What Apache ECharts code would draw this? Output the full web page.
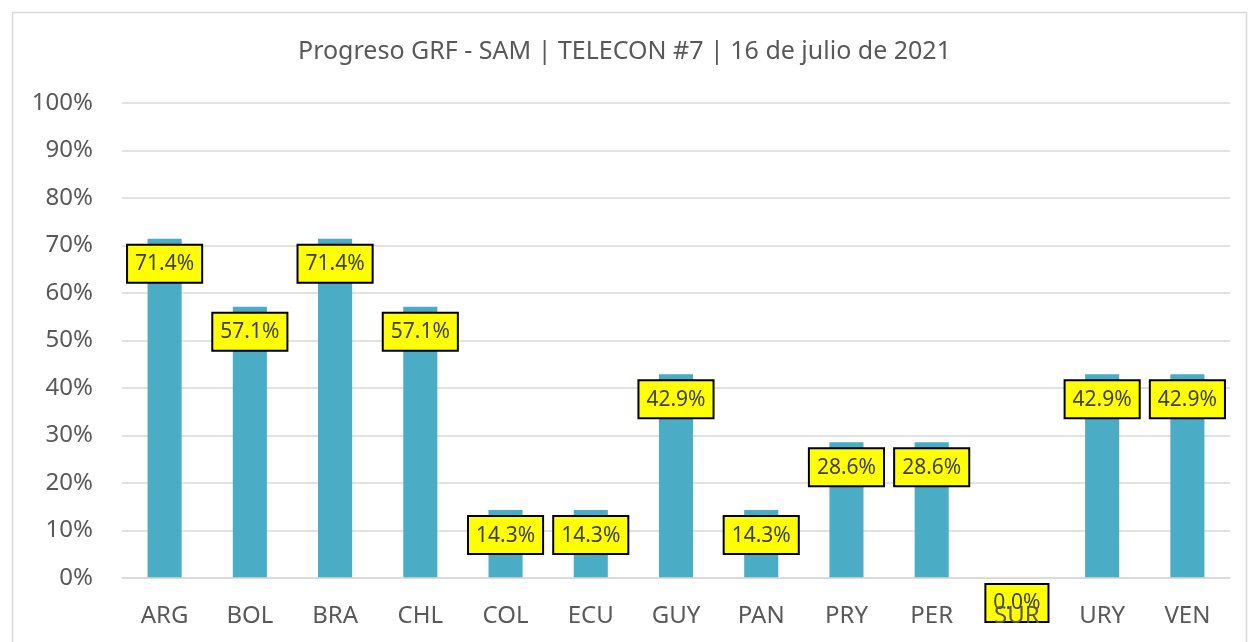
<!DOCTYPE html>
<html>
<head>
<meta charset="utf-8">
<script src="https://cdn.jsdelivr.net/npm/echarts@6/dist/echarts.min.js"></script>
<style>
  html, body { margin: 0; padding: 0; background: #fff; }
  #chart { width: 1249px; height: 642px; }
</style>
</head>
<body>
<div id="chart"></div>
<script>
const countries = ['ARG', 'BOL', 'BRA', 'CHL', 'COL', 'ECU', 'GUY', 'PAN', 'PRY', 'PER', 'SUR', 'URY', 'VEN']
const progress = [71.4, 57.1, 71.4, 57.1, 14.3, 14.3, 42.9, 14.3, 28.6, 28.6, 0.0, 42.9, 42.9]
const yTicks = [0, 10, 20, 30, 40, 50, 60, 70, 80, 90, 100]

const chart = echarts.init(document.getElementById('chart'))
const font = 'Noto Sans, sans-serif'

const option = {
  animation: false,
  title: {
    text: 'Progreso GRF - SAM | TELECON #7 | 16 de julio de 2021',
    left: 'center',
    top: 34,
    textStyle: { color: '#595959', fontSize: 25, fontWeight: 'normal', fontFamily: font }
  },
  graphic: [{
    type: 'rect',
    shape: { x: 12.5, y: 12.5, width: 1234, height: 640 },
    style: { fill: 'none', stroke: '#d9d9d9', lineWidth: 1.5 },
    silent: true
  }],
  grid: { left: 122, right: 19, top: 103, bottom: 64 },
  xAxis: {
    type: 'category',
    data: countries,
    z: 5,
    axisLine: { lineStyle: { color: '#d9d9d9', width: 1.5 } },
    axisTick: { show: false },
    axisLabel: { color: '#595959', fontSize: 24, fontFamily: font, margin: 26, hideOverlap: false }
  },
  yAxis: {
    type: 'value',
    min: yTicks[0],
    max: yTicks[yTicks.length - 1],
    interval: 10,
    axisLine: { show: false },
    axisTick: { show: false },
    axisLabel: { color: '#595959', fontSize: 24, fontFamily: font, margin: 29, formatter: '{value}%' },
    splitLine: { lineStyle: { color: '#d9d9d9', width: 1.5 } }
  },
  series: [{
    type: 'bar',
    data: progress,
    barWidth: '40%',
    itemStyle: { color: '#4bacc6' },
    label: {
      show: true,
      position: 'insideTop',
      distance: 7,
      formatter: p => p.value.toFixed(1) + '%',
      color: '#404040',
      fontSize: 21,
      fontFamily: font,
      backgroundColor: '#ffff00',
      borderColor: '#000',
      borderWidth: 2,
      padding: [8, 7, 7, 7]
    }
  }]
}

chart.setOption(option)
</script>
</body>
</html>
